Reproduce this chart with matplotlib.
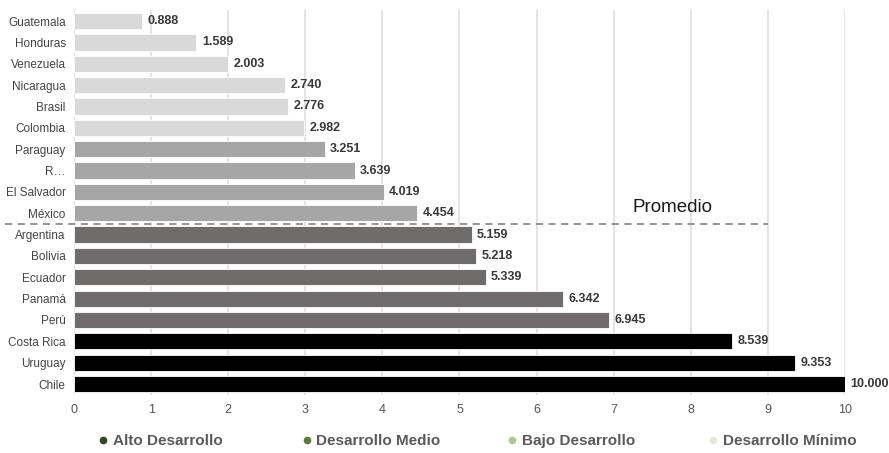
import matplotlib
matplotlib.use("Agg")
import matplotlib.pyplot as plt
from matplotlib.lines import Line2D

countries = ["Guatemala", "Honduras", "Venezuela", "Nicaragua", "Brasil", "Colombia",
             "Paraguay", "R…", "El Salvador", "México",
             "Argentina", "Bolivia", "Ecuador", "Panamá", "Perú",
             "Costa Rica", "Uruguay", "Chile"]
values = [0.888, 1.589, 2.003, 2.740, 2.776, 2.982,
          3.251, 3.639, 4.019, 4.454,
          5.159, 5.218, 5.339, 6.342, 6.945,
          8.539, 9.353, 10.000]
groups = ["min"] * 6 + ["bajo"] * 4 + ["medio"] * 5 + ["alto"] * 3
x_ticks = list(range(0, 11))
legend_labels = ["Alto Desarrollo", "Desarrollo Medio", "Bajo Desarrollo", "Desarrollo Mínimo"]
average_label = "Promedio"

bar_colors = {"min": "#d9d9d9", "bajo": "#a6a6a6", "medio": "#706c6c", "alto": "#000000"}
legend_colors = ["#2e4a1f", "#5b7b3b", "#a9cb8d", "#e2ebdb"]

narrow = ["Liberation Sans Narrow", "Liberation Sans", "DejaVu Sans"]
regular = ["Liberation Sans", "DejaVu Sans"]

fig = plt.figure(figsize=(8.89, 4.53), dpi=100)
ax = fig.add_axes([0.0832, 0.1287, 0.8673, 0.8483])

ypos = list(range(len(countries)))
ax.barh(ypos, values, height=0.76,
        color=[bar_colors[g] for g in groups], edgecolor="white", linewidth=0.6, zorder=3)

for y, v in zip(ypos, values):
    ax.text(v + 0.07, y, f"{v:.3f}", va="center", ha="left", fontsize=9,
            fontweight="bold", color="#383838", family=regular, zorder=4)

ax.set_ylim(len(countries) - 0.5, -0.5)
ax.set_xlim(0, 10)
ax.set_xticks(x_ticks)
ax.set_xticklabels([str(t) for t in x_ticks], family=narrow, fontsize=9, color="#555555")
ax.set_yticks(ypos)
ax.set_yticklabels(countries, family=regular, fontsize=8.5, color="#444444")
ax.tick_params(axis="both", length=0)
ax.tick_params(axis="x", pad=7)
ax.tick_params(axis="y", pad=6)
ax.grid(axis="x", color="#dedede", linewidth=1.2, zorder=0)
for s in ax.spines.values():
    s.set_visible(False)

# dashed average separator between bajo and medio groups
ax.plot([-0.9, 9.0], [9.5, 9.5], ls=(0, (4, 3)), color="#8c8c8c", lw=1.3,
        clip_on=False, zorder=5)
ax.text(7.24, 8.75, average_label, fontsize=13.5, color="#1a1a1a",
        family=regular, ha="left", va="center", zorder=5)

# legend row
leg_x = [0.116, 0.345, 0.576, 0.802]
leg_y = 0.026
for x, lab, c in zip(leg_x, legend_labels, legend_colors):
    fig.add_artist(Line2D([x], [leg_y + 0.002], marker="o", markersize=4.5,
                          color=c, linestyle="none", transform=fig.transFigure))
    fig.text(x + 0.011, leg_y, lab, fontsize=11, fontweight="bold", color="#5a5a5a",
             family=narrow, ha="left", va="center")

fig.savefig("out.png", dpi=100, facecolor="white")
